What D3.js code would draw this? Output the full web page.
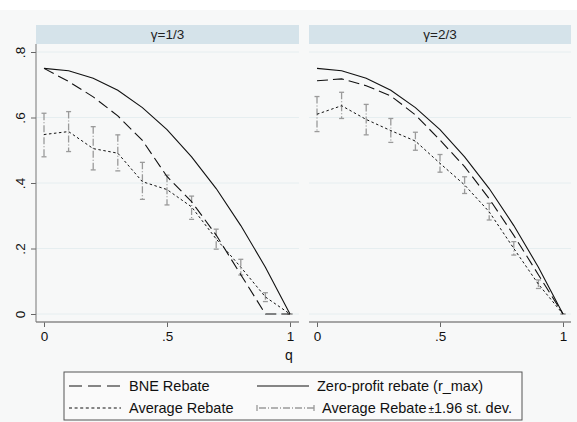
<!DOCTYPE html>
<html lang="en"><head><meta charset="UTF-8">
<title>Rebates by q</title>
<script src="https://cdn.jsdelivr.net/npm/d3@7"></script>
<style type="text/css">
  body { margin: 0; background: #ffffff; }
  text { font-family: "Liberation Sans", Arial, sans-serif; }
</style>
</head>
<body>
<script type="text/javascript">

var w = 577;
var h = 422;

// data
var qValues = [0, 0.1, 0.2, 0.3, 0.4, 0.5, 0.6, 0.7, 0.8, 0.9, 1];
var panelTitles = ["\u03b3=1/3", "\u03b3=2/3"];
var xTicks = [0, 0.5, 1];
var xTickLabels = ["0", ".5", "1"];
var yTicks = [0, 0.2, 0.4, 0.6, 0.8];
var yTickLabels = ["0", ".2", ".4", ".6", ".8"];

var zeroLeft = [0.75, 0.743, 0.72, 0.683, 0.63, 0.563, 0.48, 0.383, 0.27, 0.143, 0];
var bneLeft  = [0.75, 0.71, 0.663, 0.605, 0.53, 0.42, 0.343, 0.241, 0.12, 0, 0];
var avgLeft  = [0.548, 0.557, 0.505, 0.491, 0.404, 0.38, 0.327, 0.229, 0.143, 0.052, 0];
var loLeft   = [0.48, 0.496, 0.44, 0.437, 0.35, 0.333, 0.289, 0.198, 0.119, 0.038, 0];
var hiLeft   = [0.613, 0.618, 0.572, 0.547, 0.463, 0.424, 0.36, 0.259, 0.167, 0.065, 0];

var zeroRight = [0.75, 0.743, 0.72, 0.683, 0.63, 0.563, 0.48, 0.383, 0.27, 0.143, 0];
var bneRight  = [0.712, 0.718, 0.697, 0.666, 0.608, 0.531, 0.45, 0.352, 0.24, 0.12, 0];
var avgRight  = [0.61, 0.636, 0.594, 0.56, 0.528, 0.46, 0.394, 0.312, 0.2, 0.091, 0];
var loRight   = [0.557, 0.597, 0.547, 0.524, 0.5, 0.433, 0.368, 0.287, 0.18, 0.078, 0];
var hiRight   = [0.664, 0.677, 0.64, 0.597, 0.555, 0.487, 0.419, 0.338, 0.221, 0.104, 0];

var legendLabels = ["BNE Rebate", "Zero-profit rebate (r_max)", "Average Rebate", "Average Rebate"];

var panels = [
  {title: panelTitles[0], left: 36, right: 299, x0: 44, x1: 290,
   zero: zeroLeft, bne: bneLeft, avg: avgLeft, lo: loLeft, hi: hiLeft},
  {title: panelTitles[1], left: 309, right: 571, x0: 317, x1: 563,
   zero: zeroRight, bne: bneRight, avg: avgRight, lo: loRight, hi: hiRight}
];

var stripTop = 25, stripBottom = 44, axisY = 322;

var yScale = d3.scaleLinear().domain([0, 0.8]).range([314, 52]);

var svg = d3.select("body").append("svg")
  .attr("width", w)
  .attr("height", h);

// graph background
svg.append("rect")
  .attr("x", 0).attr("y", 10)
  .attr("width", w).attr("height", h - 10)
  .attr("fill", "#f7f8f8");

var errColor = "#9a9a9a";

panels.forEach(function(p, pi) {
  var xScale = d3.scaleLinear().domain([0, 1]).range([p.x0, p.x1]);
  var g = svg.append("g");

  // strip
  g.append("rect")
    .attr("x", p.left).attr("y", stripTop)
    .attr("width", p.right - p.left).attr("height", stripBottom - stripTop)
    .attr("fill", "#d5e3ea");
  g.append("text")
    .attr("x", (p.left + p.right) / 2).attr("y", (stripTop + stripBottom) / 2 + 4.5)
    .attr("text-anchor", "middle")
    .attr("font-size", "13.5px")
    .attr("fill", "#222")
    .text(p.title);

  // grid
  g.selectAll("line.grid")
    .data(yTicks)
    .enter().append("line")
    .attr("class", "grid")
    .attr("x1", p.left).attr("x2", p.right)
    .attr("y1", function(d) { return yScale(d); })
    .attr("y2", function(d) { return yScale(d); })
    .attr("stroke", "#e6eef0")
    .attr("stroke-width", 1);

  // x axis
  var xAxis = d3.axisBottom(xScale)
    .tickValues(xTicks)
    .tickFormat(function(d, i) { return xTickLabels[i]; })
    .tickSize(5)
    .tickSizeOuter(0);
  var gx = g.append("g")
    .attr("transform", "translate(0," + axisY + ")")
    .call(xAxis);
  gx.select(".domain").remove();
  gx.append("line")
    .attr("x1", p.left).attr("x2", p.right)
    .attr("y1", 0).attr("y2", 0)
    .attr("stroke", "#8a8a8a").attr("stroke-width", 1.5);
  gx.selectAll(".tick line").attr("stroke", "#666");
  gx.selectAll(".tick text")
    .attr("font-size", "13.5px")
    .attr("font-family", "Liberation Sans, Arial, sans-serif")
    .attr("fill", "#111")
    .attr("dy", "0.85em");

  // y axis only on left panel
  if (pi === 0) {
    var yAxis = d3.axisLeft(yScale)
      .tickValues(yTicks)
      .tickFormat(function(d, i) { return yTickLabels[i]; })
      .tickSize(5)
      .tickSizeOuter(0);
    var gy = g.append("g")
      .attr("transform", "translate(" + p.left + ",0)")
      .call(yAxis);
    gy.select(".domain").remove();
    gy.append("line")
      .attr("x1", 0).attr("x2", 0)
      .attr("y1", stripBottom).attr("y2", axisY)
      .attr("stroke", "#777").attr("stroke-width", 1);
    gy.selectAll(".tick line").attr("stroke", "#666");
    gy.selectAll(".tick text")
      .attr("font-size", "13.5px")
      .attr("font-family", "Liberation Sans, Arial, sans-serif")
      .attr("fill", "#111")
      .attr("x", 0)
      .attr("dy", 0)
      .attr("text-anchor", "middle")
      .attr("transform", "translate(-16,0) rotate(-90)")
      .attr("y", 4.5);
  }

  // error bars
  var bars = g.selectAll("g.err")
    .data(qValues)
    .enter().append("g")
    .attr("class", "err");
  bars.append("line")
    .attr("x1", function(d) { return xScale(d); })
    .attr("x2", function(d) { return xScale(d); })
    .attr("y1", function(d, i) { return yScale(p.hi[i]); })
    .attr("y2", function(d, i) { return yScale(p.lo[i]); })
    .attr("stroke", errColor).attr("stroke-width", 1.3)
    .attr("stroke-dasharray", "7,2,1,2");
  bars.append("line")
    .attr("x1", function(d) { return xScale(d) - 2.5; })
    .attr("x2", function(d) { return xScale(d) + 2.5; })
    .attr("y1", function(d, i) { return yScale(p.hi[i]); })
    .attr("y2", function(d, i) { return yScale(p.hi[i]); })
    .attr("stroke", errColor).attr("stroke-width", 1.3);
  bars.append("line")
    .attr("x1", function(d) { return xScale(d) - 2.5; })
    .attr("x2", function(d) { return xScale(d) + 2.5; })
    .attr("y1", function(d, i) { return yScale(p.lo[i]); })
    .attr("y2", function(d, i) { return yScale(p.lo[i]); })
    .attr("stroke", errColor).attr("stroke-width", 1.3);

  var line = function(vals) {
    return d3.line()
      .x(function(d) { return xScale(d); })
      .y(function(d, i) { return yScale(vals[i]); })(qValues);
  };

  g.append("path").attr("d", line(p.avg))
    .attr("fill", "none").attr("stroke", "#111").attr("stroke-width", 1)
    .attr("stroke-dasharray", "2.5,2.5");
  g.append("path").attr("d", line(p.bne))
    .attr("fill", "none").attr("stroke", "#111").attr("stroke-width", 1.1)
    .attr("stroke-dasharray", "11,5");
  g.append("path").attr("d", line(p.zero))
    .attr("fill", "none").attr("stroke", "#111").attr("stroke-width", 1.1);
});

// x title
svg.append("text")
  .attr("x", 289).attr("y", 360)
  .attr("text-anchor", "middle")
  .attr("font-size", "14px")
  .attr("fill", "#111")
  .text("q");

// legend
var lg = svg.append("g");
lg.append("rect")
  .attr("x", 64).attr("y", 372)
  .attr("width", 458).attr("height", 48)
  .attr("fill", "#fafafa")
  .attr("stroke", "#555").attr("stroke-width", 1);

var legendItems = [
  {x: 69, y: 386, dash: "13,6", label: legendLabels[0]},
  {x: 257, y: 386, dash: null, label: legendLabels[1]},
  {x: 69, y: 408, dash: "3,2.6", label: legendLabels[2]},
  {x: 257, y: 408, dash: "err", label: legendLabels[3]}
];

legendItems.forEach(function(it) {
  if (it.dash === "err") {
    lg.append("line")
      .attr("x1", it.x).attr("x2", it.x + 57)
      .attr("y1", it.y).attr("y2", it.y)
      .attr("stroke", errColor).attr("stroke-width", 1.3)
      .attr("stroke-dasharray", "7,2,1,2")
      .attr("stroke-dashoffset", -2);
    [it.x, it.x + 57].forEach(function(cx) {
      lg.append("line")
        .attr("x1", cx).attr("x2", cx)
        .attr("y1", it.y - 3).attr("y2", it.y + 3)
        .attr("stroke", errColor).attr("stroke-width", 1.3);
    });
  } else {
    lg.append("line")
      .attr("x1", it.x).attr("x2", it.x + 52)
      .attr("y1", it.y).attr("y2", it.y)
      .attr("stroke", "#111").attr("stroke-width", 1.1)
      .attr("stroke-dasharray", it.dash);
  }
  var t = lg.append("text")
    .attr("x", it.dash === "err" ? it.x + 65 : it.x + 60).attr("y", it.y + 5)
    .attr("font-size", "14.5px")
    .attr("fill", "#111")
    .text(it.label);
  if (it.dash === "err") {
    t.append("tspan").attr("font-size", "10px").attr("dx", 2).text("\u00b1");
    t.append("tspan").text("1.96 st. dev.");
  }
});

</script>
</body>
</html>
